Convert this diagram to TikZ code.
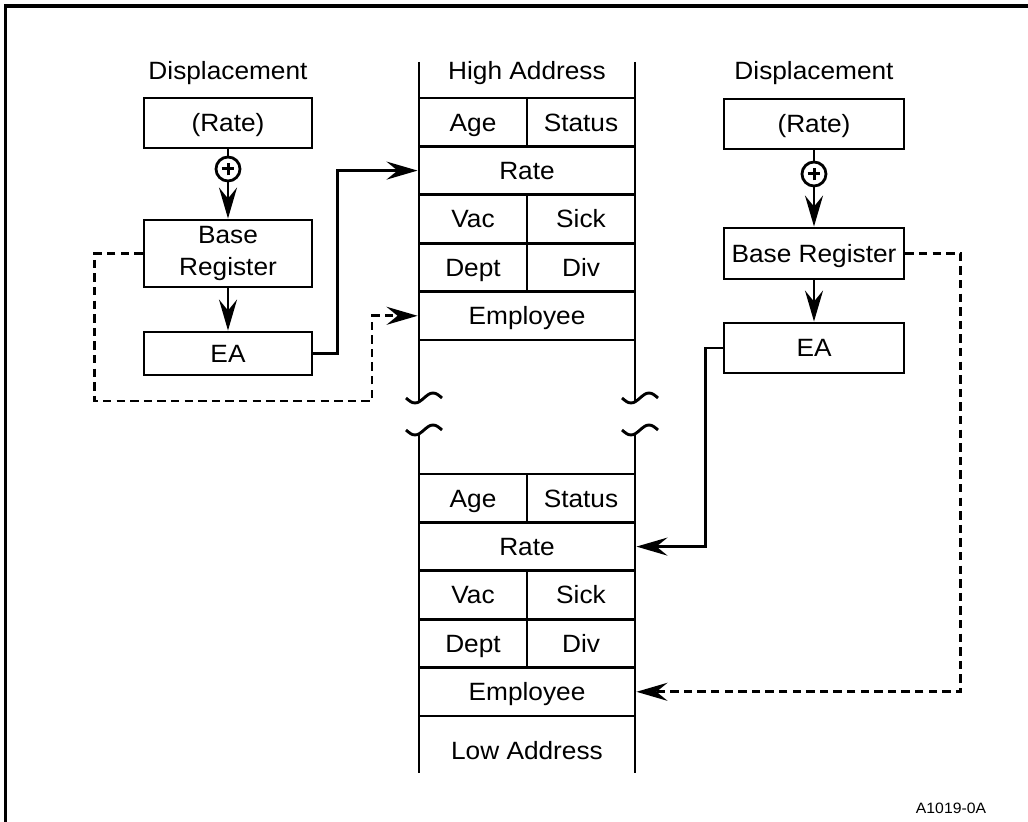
\documentclass[tikz,border=0pt]{standalone}
\usepackage{fontspec}
\setmainfont{Liberation Sans}[FakeStretch=1.05]
\usetikzlibrary{arrows.meta}
\begin{document}
\begin{tikzpicture}[x=0.5pt,y=-0.5pt,
  every node/.style={font=\fontsize{12.5}{16}\selectfont, inner sep=0pt},
  ln/.style={line width=1.45pt},
  boxbase/.style={draw, line width=1.45pt},
  box/.style={boxbase, minimum height=25pt, text height=9pt, text depth=0pt},
  cell/.style={draw, line width=1.45pt, minimum height=24.2pt, text height=9pt, text depth=0pt},
  half/.style={cell, minimum width=54pt},
  full/.style={cell, minimum width=108pt},
  plusc/.style={circle, draw, line width=1.4pt, minimum size=12pt},
  arr/.style={line width=1.45pt, -{Stealth[length=15.5pt,width=9pt,inset=5.5pt]}},
  dsh/.style={dash pattern=on 4.2pt off 2.6pt},
  lbl/.style={anchor=base}
]
\useasboundingbox (0,0) rectangle (1028,822);
% frame
\draw[line width=1.6pt] (5.5,840) -- (5.5,6) -- (1040,6);

% left chain
\node[lbl] (dispL) at (228,80) {Displacement};
\node[box, minimum width=84pt] (rateL) at (228,123) {(Rate)};
\node[plusc] (circL) at (228,169) {};
\node[boxbase, minimum width=84pt, minimum height=33.5pt, align=center] (baseL) at (228,253.5) {Base\\Register};
\node[box, minimum width=84pt, minimum height=21.5pt] (eaL) at (228,353.5) {EA};

% right chain
\node[lbl] (dispR) at (814,80) {Displacement};
\node[box, minimum width=90pt] (rateR) at (814,124) {(Rate)};
\node[plusc] (circR) at (814,174) {};
\node[box, minimum width=90pt, minimum height=25.5pt] (baseR) at (814,253.5) {Base Register};
\node[box, minimum width=90pt] (eaR) at (814,348) {EA};

% memory, upper part
\node[lbl] (high) at (527,80) {High Address};
\node[half] (ageT) at (473,122.2) {Age};
\node[half] (statT) at (581,122.2) {Status};
\node[full] (rateT) at (527,170.6) {Rate};
\node[half] (vacT) at (473,219) {Vac};
\node[half] (sickT) at (581,219) {Sick};
\node[half] (deptT) at (473,267.4) {Dept};
\node[half] (divT) at (581,267.4) {Div};
\node[full] (empT) at (527,315.8) {Employee};

% memory, lower part
\node[half] (ageB) at (473,498.2) {Age};
\node[half] (statB) at (581,498.2) {Status};
\node[full] (rateB) at (527,546.6) {Rate};
\node[half] (vacB) at (473,595) {Vac};
\node[half] (sickB) at (581,595) {Sick};
\node[half] (deptB) at (473,643.4) {Dept};
\node[half] (divB) at (581,643.4) {Div};
\node[full] (empB) at (527,691.8) {Employee};
\node[lbl] (low) at (527,760) {Low Address};

\node[lbl, font=\fontsize{7.5}{8}\selectfont] (code) at (951,813) {A1019-0A};

% column lines
\draw[ln] (419,62) -- (419,402);
\draw[ln] (635,62) -- (635,402);
\draw[ln] (419,434) -- (419,773);
\draw[ln] (635,434) -- (635,773);
% break marks
\foreach \dx in {0,216} {
  \draw[ln] (406+\dx,398) sin (415+\dx,403) cos (424+\dx,398) sin (433+\dx,393) cos (442+\dx,398);
  \draw[ln] (406+\dx,430) sin (415+\dx,435) cos (424+\dx,430) sin (433+\dx,425) cos (442+\dx,430);
}

% plus signs
\foreach \c in {circL,circR} {
  \draw[line width=1.5pt] ([xshift=-3.2pt]\c.center) -- ([xshift=3.2pt]\c.center);
  \draw[line width=1.5pt] ([yshift=-3.2pt]\c.center) -- ([yshift=3.2pt]\c.center);
}

% left connectors
\draw[ln] (rateL) -- (circL);
\draw[arr] (circL) -- (baseL);
\draw[arr] (baseL) -- (eaL);
\draw[arr] (eaL.east) -- ++(24,0) |- (rateT.west);
\draw[arr,dsh] (baseL.west) -- ++(-48,0) |- (372,401) |- (empT.west);

% right connectors
\draw[ln] (rateR) -- (circR);
\draw[arr] (circR) -- (baseR);
\draw[arr] (baseR) -- (eaR);
\draw[arr] (eaR.west) -- ++(-17,0) |- (rateB.east);
\draw[arr,dsh] (baseR.east) -- ++(55,0) |- (empB.east);
\end{tikzpicture}
\end{document}
